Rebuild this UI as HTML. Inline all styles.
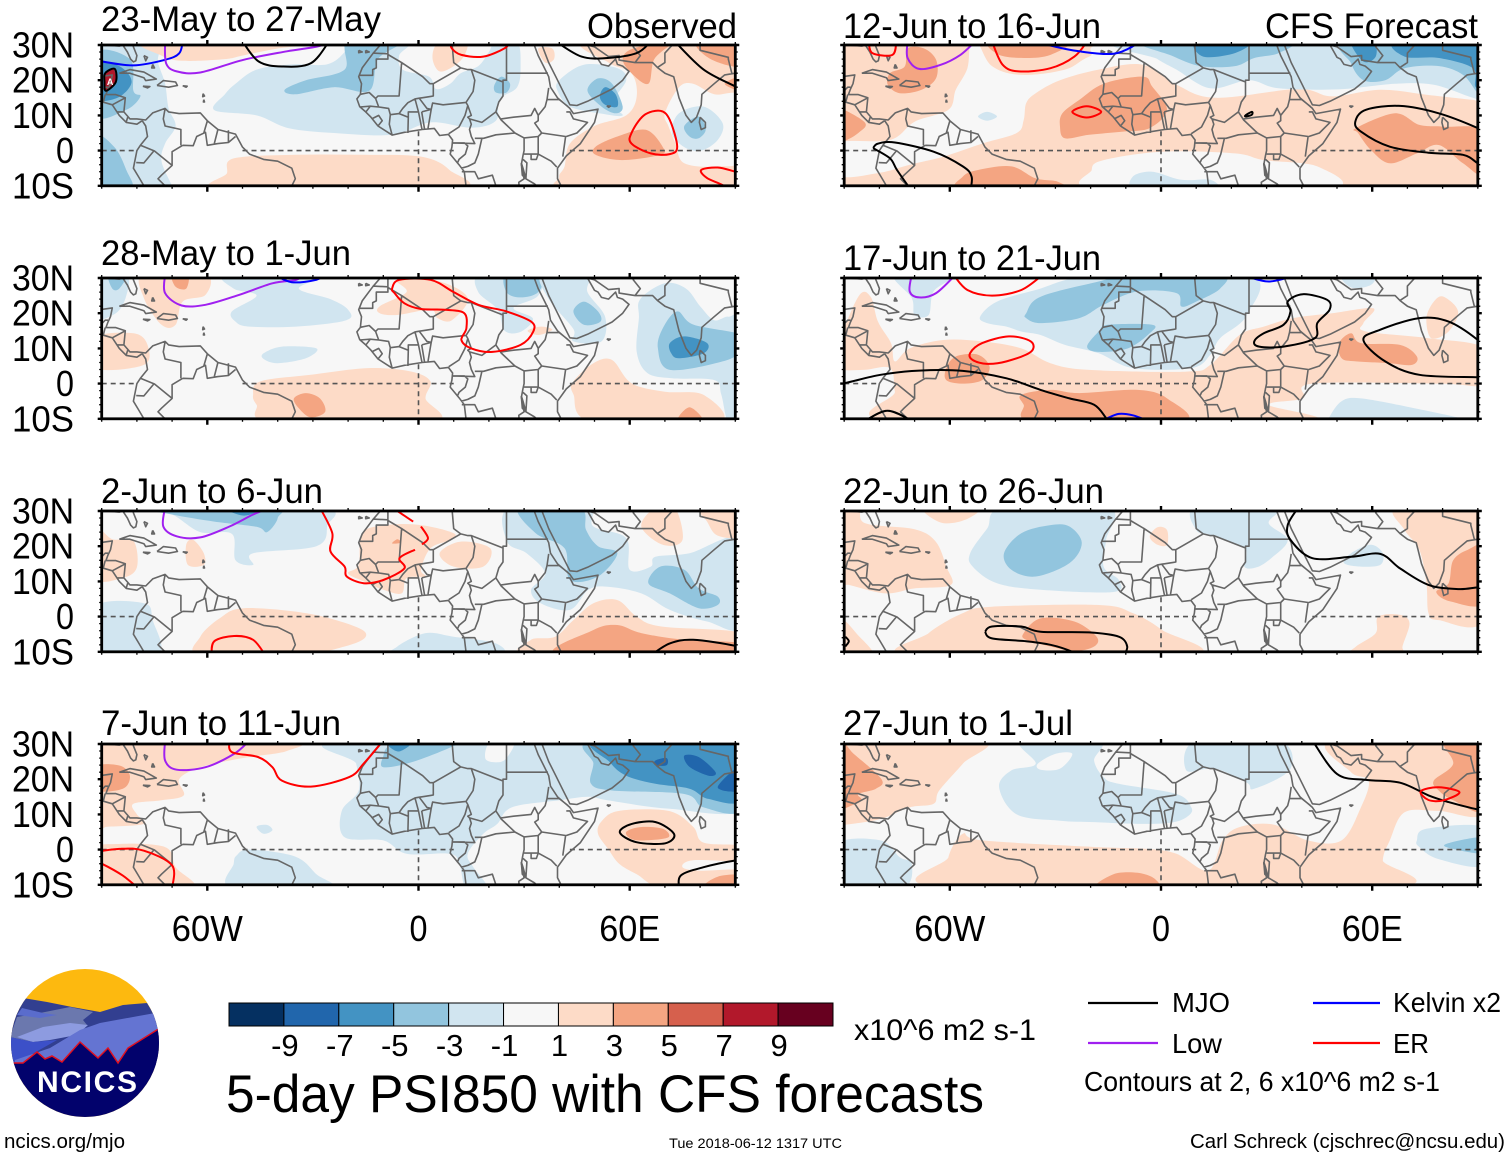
<!DOCTYPE html>
<html lang="en">
<head>
<meta charset="utf-8">
<title>5-day PSI850 with CFS forecasts</title>
<style>
html,body{margin:0;padding:0;background:#fff;}
svg{display:block;}
text{font-family:"Liberation Sans",sans-serif;fill:#000;}
</style>
</head>
<body>
<svg id="chart" xmlns="http://www.w3.org/2000/svg" width="1510" height="1158" viewBox="0 0 1510 1158">
  <rect x="0" y="0" width="1510" height="1158" fill="#fff"/>
  <g id="panels"></g>

  <g font-size="35">
    <text x="101" y="31" textLength="280" lengthAdjust="spacingAndGlyphs">23-May to 27-May</text>
    <text x="587" y="38" textLength="150" lengthAdjust="spacingAndGlyphs">Observed</text>
    <text x="101" y="265" textLength="250" lengthAdjust="spacingAndGlyphs">28-May to 1-Jun</text>
    <text x="101" y="503" textLength="222" lengthAdjust="spacingAndGlyphs">2-Jun to 6-Jun</text>
    <text x="101" y="735" textLength="240" lengthAdjust="spacingAndGlyphs">7-Jun to 11-Jun</text>
    <text x="843" y="38" textLength="258" lengthAdjust="spacingAndGlyphs">12-Jun to 16-Jun</text>
    <text x="1265" y="38" textLength="213" lengthAdjust="spacingAndGlyphs">CFS Forecast</text>
    <text x="843" y="270" textLength="258" lengthAdjust="spacingAndGlyphs">17-Jun to 21-Jun</text>
    <text x="843" y="503" textLength="261" lengthAdjust="spacingAndGlyphs">22-Jun to 26-Jun</text>
    <text x="843" y="735" textLength="230" lengthAdjust="spacingAndGlyphs">27-Jun to 1-Jul</text>
  </g>

  <g id="axis-labels" font-size="36"></g>

  <g id="colorbar"></g>
  <text x="854" y="1040" font-size="30" textLength="182" lengthAdjust="spacingAndGlyphs">x10^6 m2 s-1</text>
  <text x="226" y="1112" font-size="53" textLength="758" lengthAdjust="spacingAndGlyphs">5-day PSI850 with CFS forecasts</text>
  <text x="669" y="1148" font-size="14" textLength="173" lengthAdjust="spacingAndGlyphs">Tue 2018-06-12 1317 UTC</text>
  <text x="4" y="1148" font-size="20" textLength="121" lengthAdjust="spacingAndGlyphs">ncics.org/mjo</text>
  <text x="1190" y="1148" font-size="20" textLength="315" lengthAdjust="spacingAndGlyphs">Carl Schreck (cjschrec@ncsu.edu)</text>

  <g font-size="28">
    <line x1="1088" y1="1003" x2="1158" y2="1003" stroke="#000" stroke-width="2.2"/>
    <text x="1172" y="1012" textLength="58" lengthAdjust="spacingAndGlyphs">MJO</text>
    <line x1="1313" y1="1003" x2="1380" y2="1003" stroke="#0000ff" stroke-width="2.2"/>
    <text x="1393" y="1012" textLength="108" lengthAdjust="spacingAndGlyphs">Kelvin x2</text>
    <line x1="1088" y1="1043" x2="1158" y2="1043" stroke="#a020f0" stroke-width="2.2"/>
    <text x="1172" y="1053" textLength="50" lengthAdjust="spacingAndGlyphs">Low</text>
    <line x1="1313" y1="1043" x2="1380" y2="1043" stroke="#ff0000" stroke-width="2.2"/>
    <text x="1393" y="1053" textLength="36" lengthAdjust="spacingAndGlyphs">ER</text>
    <text x="1084" y="1091" textLength="356" lengthAdjust="spacingAndGlyphs">Contours at 2, 6 x10^6 m2 s-1</text>
  </g>

  <g>
    <defs><clipPath id="logo-clip"><circle cx="85" cy="1043" r="74"/></clipPath></defs>
    <g clip-path="url(#logo-clip)">
      <rect x="10" y="968" width="150" height="150" fill="#fdb90f"/>
      <polygon points="23,998 47,1002 72,1007 100,1012 123,1005 147,1003 159,1023 159,1070 10,1070 10,1027" fill="#323f90"/>
      <polygon points="10,1037 17,1017 40,1013 70,1007 93,1012 83,1020 87,1025 33,1042" fill="#6b78ae"/>
      <polygon points="17,1015 22,1008 43,1013 57,1015 40,1018" fill="#5a6ccc"/>
      <polygon points="17,1037 43,1027 70,1023 88,1025 77,1035 50,1040 33,1042" fill="#8d9be0"/>
      <polygon points="10,1037 33,1042 57,1040 13,1065 10,1065" fill="#3c50c8"/>
      <polygon points="50,1048 80,1030 100,1023 155,1013 160,1030 117,1065 15,1065 15,1060" fill="#6474d2"/>
      <polygon points="10,1063 23,1063 37,1052 45,1059 52,1056 62,1062 80,1042 98,1058 108,1048 118,1063 128,1048 160,1028 160,1120 10,1120" fill="#02026c"/>
      <polyline points="10,1063 23,1063 37,1052 45,1059 52,1056 62,1062 80,1042 98,1058 108,1048 118,1063 128,1048 160,1028" fill="none" stroke="#e01020" stroke-width="1.5"/>
    </g>
    <text x="37" y="1092" font-size="30" font-weight="bold" style="fill:#fff" textLength="100" lengthAdjust="spacing">NCICS</text>
  </g>
</svg>

<script>
// ---------- Colour scale ----------
const colorbarLabels = ['-9','-7','-5','-3','-1','1','3','5','7','9'];
const colorbarColors = ['#053061','#2166ac','#4393c3','#92c5de','#d1e5f0','#f7f7f7','#fddbc7','#f4a582','#d6604d','#b2182b','#67001f'];
const shadeLevels = [-10,-8,-6,-4,-2,0,2,4,6,8,10];

// ---------- Axis ticks ----------
const lonTickLabels = ['60W','0','60E'];
const lonTickValues = [-60,0,60];
const latTickLabels = ['30N','20N','10N','0','10S'];
const latTickValues = [30,20,10,0,-10];

// ---------- Observed panels: shaded regions [level, lon, lat, lon, lat ...] ----------
const fillsMay23 = [
 [-2,-92,31,-75,31,-74,25,-72,19,-71,12,-69,7,-72,2,-73,-3,-70,-10,-69,-12,-92,-12],
 [-2,-58,11.5,-55,16,-52,19,-46,23,-36,24.5,-26,24.5,-21,28,-20,31,-3,31,-5.5,27,-4.5,23,3,21,5,17.5,9,19,12,22,17,24,20,28,22,31,28,31,29,24,28,18,23,14.5,22,8.5,15,6.5,3.5,8,-7.5,4.5,-24,5,-37,6.4,-46,10],
 [2,-54.4,-6.4,-52.4,-2.2,-34.7,-1.2,-17,-1.2,.7,-1.7,8.8,-5.5,10,-11,-55,-11],
 [2,-76,31,-73,27,-67,25.5,-55,26,-50,27,-40,29,-26,31],
 [2,4,26,5,30,9,31,13.8,31,13,27,10,24,6,22.5],
 [2,34,29,36,25,38.5,26,38,29],
 [2,48,31,54,25,60.5,22,62,15.4,59,10,50,7,43,2,41.5,-4.5,40,-7.5,43,-11,92,-11,92,31],
 [0,70,10.6,74,18,78,19,84,16,92,15,92,-2,85,-4.5,75.5,-3.6,73,2,71,7],
 [-2,40,20,47,24.4,56.5,23.4,59,20,55,13.5,58,10,52,10.5,43,12.5,39.5,17],
 [-4,48,17,51,20.5,55,19,58,12.5,56,10.6,52,12.5],
 [-6,51.5,15.4,53,18,56,16,56.5,12.5,53,13],
 [-2,72,5,74,10.6,81,12.5,86.4,7.8,85,3,80.3,0,75.5,1],
 [-4,75.5,7,79.6,9.7,81.6,6,79.6,3.5,77,4],
 [4,61,29,72,31,67,26,65.3,19,60.5,22,58,26],
 [4,79,31,92,31,92,24,83,26],
 [4,87,19,92,21,92,17],
 [4,50.3,1.1,56.5,4,64.6,5.9,69.4,1,68.7,-1.2,57.8,-2.7,50.3,-1.2],
 [-4,-38,17.3,-32,20,-21,23,-20,31,-5,31,-11.5,26,-14,17,-24,18,-35,16],
 [-4,21.5,18.5,23.5,21,26,19,25,16.5,22,16.5],
 [-4,-92,27.5,-82,26,-81,17,-79,15.4,-83,11.6,-92,10],
 [-4,-92,4,-86.4,1,-83,-5.5,-81.6,-11,-92,-11],
 [-6,-92,25,-85,24,-81.5,19.5,-85.5,15,-92,15],
 [8,-88.6,17,-86.2,19.5,-86.5,23,-88.8,22,-89,19.5]
];
const fillsMay28 = [
 [-2,-92,31,-83,31,-83,25,-86,20,-92,19],
 [-4,-88,31,-83,31,-85,27,-87,27],
 [2,-78,31,-78,24.3,-73,16.7,-69,16.7,-67,23.3,-60.5,25.2,-60.5,31],
 [4,-70,31,-65.5,31,-66,27,-69,27.5],
 [2,-92,13,-81,14.3,-77,11,-78,5.3,-92,4.4],
 [-2,-54.4,31,-52.5,27,-46,25,-53,20.5,-52,17.6,-48,16.2,-34.7,16.2,-20.5,18,-20,21,-25,24,-34,27,-28,31],
 [-2,-44,8.6,-38.8,10.5,-29,10,-32,7.2,-40,5.8,-44,7],
 [2,-11,22,-3.4,26,-6,29.5,6,29,14,24.3,9.5,18,5.4,18.6,3.4,21,-6,19.5,-11,20],
 [2,31,15,34.7,16.2,38,15.3,34,13.8],
 [-2,17.7,31,17,26,22.5,21,24.5,15,29,14.7,32.5,18.5,27,21.5,34,25,34,31],
 [-4,25,31,35,31,34,26,29,24.5,25,26],
 [-2,35,31,37,24,44,15.5,44,12,52,12,53,19,48,26,48,31],
 [-4,44,20.5,47,23.3,51,20.5,51.7,17.6,47,16.7],
 [-2,62.6,18.6,63,24,70,28.5,76,27,80,22,84,18,88,19,92,17,92,-11,88,-11,86,-3,84,1,72,1.5,65,3,62,9],
 [-4,68,10,69.4,15.7,73.5,20.5,78.2,16.7,92,13.8,92,9.6,86.4,6.3,71.4,3.9],
 [-6,71.4,11.5,75.5,13.4,82,11.5,81,8.6,74,7.2,71.8,8.6],
 [2,-47,-3.2,-45,.6,-30.6,2.5,-14.3,4.4,-2,3.4,3.4,.6,2,-4.2,4,-11,-41.5,-11,-46,-6],
 [4,-35.4,-4.2,-32,-2.7,-28,-4.2,-26.5,-8,-30.6,-9.6,-34,-7],
 [2,44,.6,49.7,5.8,55,6.7,60.5,.1,70,-2.3,81,-3.2,85,-11,49.7,-11,44,-3],
 [4,73.5,-11,77,-6.7,81,-11]
];
const fillsJun2 = [
 [-2,-78,31,-70,29,-62,24,-53,23.5,-52,16,-47,14.7,-47,18,-29,20,-26,25.6,-28,31],
 [-4,-78,31,-70,29,-58,27,-46,25.5,-43,24,-40,28,-42,31],
 [-6,-55,31,-44,31,-49.5,28.7],
 [2,-92,25,-87,22,-81,21.5,-80,14,-84,11,-92,11],
 [2,-66,20.4,-64,21.8,-61,18,-61,14.7,-65.5,14.7],
 [-2,-92,2.8,-78,3.8,-75.5,-1,-74,-11,-92,-11],
 [2,-62,-5.7,-56.5,-.5,-49.7,2.4,-32,1,-18,-2.8,-15,-5.7,-21,-8.5,-34.7,-11,-62,-11],
 [-2,-6,-8.5,2,-4.7,10,-5.7,22,-7.6,22,-11,-6,-11],
 [2,-20,12.3,-17,14.7,-16,23.7,-9,26,.7,26,10,23.7,9,21.8,3.4,19.4,.7,13.3,2,11.4,-3.4,10.9,-4.8,6.6,-10,7.6,-15.6,10],
 [4,-7.5,20.8,-6,22,-5,21],
 [2,6,18,12,21.3,20.4,19.4,18.4,14.2,10,14.2],
 [-2,25.8,31,25.2,21.3,30.7,18,36,12.3,32,7.6,34.7,3.8,43,1.9,48.3,7.6,53.7,8.5,63.3,6.6,71.4,1.9,82,-1.4,92,-2.4,92,21.8,77,18,67.3,17,66,14.2,60,13.3,59,22.3,49.7,25.6,47.6,31],
 [-4,28.6,31,33.3,23.7,41.5,19.4,43,10.4,51,11.4,56.5,18,51,20,47.6,24.6,45.6,31],
 [-4,65.3,9.5,68.7,14.2,75.5,13.3,79.6,8,85,5.7,85,3.3,79.6,2.4,71.4,6.6],
 [2,63.3,25.6,67.3,31,72.8,31,75,21.8,69.4,20.4],
 [2,80,31,92,31,92,23,85,23,82,27],
 [2,32,-6.6,38.8,-5.7,44,-1,49.7,3.8,56.5,4.7,62,0,69,-2.8,92,-4.7,92,-11,33,-11],
 [4,40,-11,49.7,-3.8,56.5,-2.4,63.3,-4.7,75.5,-6.6,92,-7.6,92,-11]
];
const fillsJun7 = [
 [2,-92,31,-37,31,-37.4,28,-50,26,-62,23.4,-68,20,-66.7,15.4,-73,14,-81,13,-80,10,-78,7.3,-88.4,6.5,-92,6.5],
 [2,-92,-.2,-86,1.6,-72,.7,-69,-5,-64.6,-11,-92,-11],
 [4,-92,23.5,-85,23.9,-82,21,-84,17.3,-92,17],
 [-2,-19.7,31,-17.7,24.4,-17,16.8,-21.8,11,-21,3.5,-10,2.6,-3.4,-1.2,8.8,-1.2,11.6,-4,13.6,-11,19.7,-11,15.6,-5,14,-1.2,18.4,4.5,22.4,7.3,26.5,12,40,14,48.3,15,53.7,14,71.4,11.6,92,11.6,92,31],
 [0,19,25.8,20.4,30.5,27,30.5,25,26,22.4,24.8],
 [-2,-52.5,-4,-51.7,-1.7,-48,0,-35,-2,-29,-7,-25,-11,-53,-11],
 [-2,-46,6.5,-43,7,-41.5,5.5,-44,4.5],
 [-4,-8,29.6,.7,31,12,31,9,29,-2,24.8,-10,23.4,-10,26.5],
 [-4,49,18.7,49.7,24.4,49.7,31,92,31,92,11.6,81,12,75.5,15.8,55,16.8],
 [-6,51,31,54.4,24.8,59,21,67.3,18.7,77,17.3,82.4,14.4,92,14.4,92,31],
 [-8,75.5,26.7,79.6,26.3,84.4,22,82.4,21,77,23.5],
 [-8,67.3,25.3,70.5,26,70.5,24,67.3,24],
 [-8,85,17.7,92,24,92,17],
 [-6,-8.5,30,-2.5,30,-5,28,-7,28.3],
 [2,51,4.5,52,8,57,11,71,11,78,6.5,81,2,92,1,92,-3,78,-3,75,-5,80,-6,92,-6,92,-11,70,-11,62,-7,57,-4,54,0],
 [4,59,5,63,6.4,69.4,5.9,71,3.5,64.6,2.6,60.5,3],
 [4,81,-11,85,-7.7,92,-7.4,92,-11]
];

// ---------- Forecast panels: shaded regions ----------
const fillsJun12 = [
 [0,-54.2,30.5,-55,23.4,-58.3,17.3,-60.4,11.6,-70,8.2,-77,3,-92,2,-92,-7,-80.4,-6.4,-71.4,-4,-61.8,-1.7,-50.8,2,-41,5,-39,8.7,-38.3,13.5,-35.6,16.3,-28.7,20,-17.7,23,-5.2,24.4,4.4,18.7,15.4,15,39,17.5,48.6,15.4,62.3,17.3,76,15.8,88.6,14.4,92,14,92,32,-8,31,-20.4,26.7,-27.3,23,-39.7,21.5,-48,24,-52,30.5],
 [0,-19.7,-5.5,-16.3,-2.7,.3,-.3,21,-.8,29.2,-2.7,44.4,-4.5,47.2,-11,-17.7,-11],
 [-2,-8,31,-1,26,4.4,23,14,17.7,25,20,33.4,17.7,50,17.4,66.5,19,77.5,18.7,88.6,15,92,15,92,31],
 [-4,-4.5,31,3,27,11.3,24,21,24,26.5,26.3,33.4,27.7,34.8,31],
 [-4,53.4,31,54,24.8,57.5,20,63.7,20,69.2,23.4,79,24,85.8,21.5,90,16.3,92,16,92,31],
 [-6,10,31,12,26.7,21,27.7,25,31],
 [-6,54,31,57.5,25.3,61,26.7,60.3,31],
 [-6,67,31,69.2,26.7,79,26.3,88.6,23.4,89.3,18.2,92,18,92,31],
 [4,-92,12,-90,11.6,-84,7.8,-86,5,-90,2.6,-92,2],
 [4,-48,31,-46,27.2,-38.3,26.3,-31.4,27.2,-26.6,31],
 [4,-72,29,-67.3,29,-63.9,25.8,-63.9,20.6,-68,17.3,-74.2,16.3,-77.6,18.7,-77,22,-72.8,23.9],
 [4,-28,10.6,-23.2,14.4,-16.3,19,-5.2,21,-2.5,18.2,1.7,11.6,-3.2,6.4,-10.8,5.4,-20.4,4.5,-27.3,3.5,-28.7,6.8],
 [4,-56.3,-7.4,-52,-5.5,-42.5,-4.5,-35.6,-7.9,-29.4,-8.8,-29,-11,-56.6,-11],
 [4,55.4,6.4,66.5,10.6,73.4,7.3,80.3,6.8,92,5.5,92,-7,85.8,-3.6,78.9,1.6,72.7,-.8,65,-3.6,59.6,.2,56,5],
 [-2,-52,9.7,-49.4,11,-46.6,9.7,-49.4,8.5],
 [-2,-8,-7.4,-2.5,-6,5.8,-8.3,14,-8.3,14.8,-11,-6.6,-11]
];
const fillsJun17 = [
 [-2,-51.4,19,-46.6,23.3,-35.6,26.6,-17.7,31,25,31,24.4,19.5,16.8,12.9,14,8.2,8.6,4.4,-8,4.4,-17.7,8.6,-27.3,11,-34.2,13.8,-39.7,14.8,-43.9,16.2,-49.4,17.2],
 [-4,-38.3,20,-34.2,24.7,-17.7,29,-8,31,16.8,31,16.8,27,10,23.3,5.8,21.9,4.4,25.7,-6.6,26.2,-16.3,22.4,-23.2,18.6,-34.2,17.2,-38.3,18.6],
 [-4,-21,10.5,-17.7,14.8,-15,16.7,-2.5,16.7,-3.2,14.3,-9.4,10,-17.7,9],
 [-2,51.3,31,60.3,31,59.6,28,54,27.3],
 [-2,-75.6,31,-59,31,-64.6,26.2,-66,19.5,-70,19.5,-70.8,24.3],
 [2,-92,10,-86,24.7,-82.5,24.7,-80.4,17.6,-76.7,11.5,-75.6,6.3,-71.4,10,-61.8,12.4,-50.8,12,-39.7,10,-31.4,5.8,-20.4,3.9,7.2,3.4,14,5.3,22.3,13.8,29.2,16.2,37.5,18.6,48.6,20,60.3,21.4,57.5,17.2,58.2,14.8,76,12.9,92,10,92,0,78.9,0,43,0,40.3,-4.2,30.6,-6,39,-11,-74.2,-11,-75.6,-2.3,-77,4.4,-84.6,3.9,-92,4.4],
 [2,77.5,23.3,80.3,24.7,84.4,20.5,81.7,14.8,76.8,12.9,75.4,18.6],
 [4,-61,4.4,-58.3,7.7,-52,8.2,-48.7,4.8,-50.8,1,-56.3,0,-61,1],
 [4,-39.7,-3.2,-31.4,-1.8,-23.2,-2.7,-6.6,-1.8,1.7,-4.2,5.8,-11,-35.6,-11,-39,-6],
 [4,50.6,11.5,54,14.3,56.8,11.5,67.9,11,72.7,7.7,71.3,5.3,65,5.8,55.4,6.3,51.3,7.2],
 [-2,47.9,-9.4,51.3,-5,56.8,-4.2,72,-7,85.8,-10,85.8,-11,47.9,-11]
];
const fillsJun22 = [
 [2,-92,31,-86,31,-84,26.5,-70,24.8,-64,21.3,-61,14.2,-59.7,9,-70,8,-78.3,6.6,-88.7,9,-92,9.5],
 [2,-67.3,31,-52,31,-55.6,27.5,-62.5,26.7],
 [-2,-54.2,18,-49.4,25,-44.6,31,-15,31,-15.6,21.8,-16.3,14.2,-12,10.4,-13.5,7,-34.2,7.6,-46.6,9.5,-53.5,14.2],
 [-4,-44.6,18,-39.7,23.7,-31.4,26,-26,25.6,-22.5,20.9,-26,15.2,-35.6,11.4,-42.5,13.3],
 [-2,10,31,32.7,31,30.6,26.5,36,21.8,31.3,16.6,27.2,14,23.7,14.2,23.7,19.4,14,23.2,10,24.6],
 [-2,52,15.2,54,18,59.6,20.4,63,18,62.3,14.7,56.8,14.2],
 [2,-3.2,22.7,-1,25.4,1.7,24.6,1.7,20.4,-1,20.4],
 [2,-70.8,-11,-66,-4.7,-56.3,1,-48,2.8,-17.7,3.3,-8,1,.3,-3.8,7.9,-11],
 [4,-39,-4.7,-34.2,-.5,-24.6,-1.4,-18.3,-5.7,-19,-8.5,-24.6,-9.8,-31.4,-8.5,-38.3,-6.6],
 [2,-92,-.5,-90,-1,-86.6,-4.7,-81.8,-11,-92,-11],
 [2,55.4,-8.5,61,-4.7,61.7,0,67.9,.5,70.6,-1.9,68.6,-8.5,68.6,-11,54,-11],
 [2,67.2,31,69.2,24.6,73.4,19,75.4,9.5,76,1,78.9,-1,92,-.5,92,31],
 [4,83,16,87.2,19,92,19.5,92,4,82.3,4.3,78.2,7,81.7,9.5]
];
const fillsJun27 = [
 [2,-92,31,-50.8,31,-56.3,24.4,-63,16.8,-64.6,13,-71.4,12,-79.7,8.7,-89.4,7.1,-92,7],
 [4,-92,31,-87.3,27.2,-79.4,20,-81,17.3,-86,15.8,-85.2,14,-90,11.6,-92,11],
 [-2,-46,17.7,-42.5,22.5,-35.6,24.4,-39.7,31,-17.7,31,-19,25.3,-16.3,20.6,-12,18.7,4.4,15.8,8.6,12,7.9,9.7,3.7,7.8,-5.2,7.3,-19,7.8,-28.7,8.2,-41,10],
 [0,-35,24.4,-30,27.2,-25.2,27.2,-28.7,23,-34.2,22.7],
 [-2,10,31,33.4,31,36.8,23,26.5,17.3,24.4,19,15.4,23,7.2,22.5],
 [2,-60.4,-11,-60.4,-2.2,-56.3,4.5,-50.8,2.6,-17.7,.7,-3.9,.2,4.4,-1.2,13.4,-6,17.5,2.6,22.3,6.4,32,7.1,41.7,2.6,51.3,2.6,56.8,12,59,19.6,54,22,48.6,31,92,31,92,10.6,78.9,11,69.2,10.6,65,2.6,63,-3,63.7,-11],
 [4,-18.3,-11,-13.5,-7,-6.6,-6.6,-1.8,-8.3,-1.8,-11],
 [4,80.3,31,92,31,92,11.5,83,14,78.9,16.8,77.5,19.6,83,24.4],
 [-2,72.7,2.6,75.4,5.9,92,6.2,92,-4.5,78.9,-2.7,73.4,.7],
 [-4,81,1.6,92,3.5,92,-1,83,.2],
 [-2,-92,1.5,-79.7,2.6,-74.2,-2.2,-70.8,-4,-73.5,-11,-92,-11]
];

// ---------- Contours: [series, closed(1/0), lon, lat, lon, lat ...] ----------
const contoursMay23 = [
 ['Kelvin',0,-92,25.5,-90,25.3,-81,24.2,-72,25.8,-68,27.6,-67,31],
 ['Low',0,-72,31,-71.7,24.8,-68.7,22.5,-62,22.2,-49.7,25.8,-37.4,28.2,-28.6,29.6,-25,31],
 ['MJO',0,-50,31,-45.4,25.3,-38.8,23.9,-30.6,24.8,-25.4,31],
 ['ER',0,9,31,9.5,29,12.2,27.2,18.4,26.7,24.5,29.1,26,31],
 ['MJO',0,39,31,46.3,26.7,53.7,26.3,62,27.7,66,31],
 ['MJO',0,72.8,31,81,23,90,18.2,94,16],
 ['ER',1,60.5,5,64,10,68.7,11.3,71.4,8.7,73.5,1.1,71.4,-1,66,-.8,60.5,2],
 ['ER',0,94,-7,90,-6,85,-4.8,80.3,-5.5,82,-7.8,86.4,-9.8,89,-12],
 ['MJO',1,-88.8,17,-86,19.5,-86.3,23.2,-89,22,-89.2,19.5]
];
const contoursMay28 = [
 ['Low',0,-72,31,-72,25.7,-67.3,22.2,-60.5,22.4,-51,25.2,-41.5,28.5,-34.7,29.5,-33,31],
 ['Kelvin',0,-41,31,-36,28.8,-29,29.5,-27,31],
 ['ER',1,-7.5,27,-5.4,29.5,3.4,29.5,10,26,17,22.4,25,20.5,32,17.6,32.6,14.8,29,11,21,9,15,10,12.2,12.4,13.6,15.7,13,20,7.5,21,.7,21.2,-4,22.8,-6.8,25.7]
];
const contoursJun2 = [
 ['Low',0,-72,31,-72.5,25.6,-68.7,22.8,-62,22.5,-53.7,25.6,-47,29,-42,31],
 ['ER',0,-28,31,-24.5,23.7,-25,18.5,-21,14.2,-20.4,11.4,-15.6,9.5,-10,10.4,-4,13.7,-5.4,16.6,-1,19],
 ['ER',0,1,20.5,2.7,22.3,.7,25.6],
 ['ER',0,-1.5,27,-6,30,-7,31],
 ['ER',0,-58.8,-11,-58,-7,-52.4,-5.5,-47,-6.6,-43.5,-11],
 ['MJO',0,66,-11,71.4,-7.6,78,-6.6,90,-8.3,94,-10]
];
const contoursJun7 = [
 ['Low',0,-72,31,-72,25.3,-68.7,22.7,-60.5,23.4,-52.4,27.2,-48,31],
 ['ER',0,-53.7,31,-53,27.7,-45.6,26.3,-41.5,23.4,-38.8,19.6,-30.6,17.9,-19.7,20.6,-15.6,24.4,-10,31],
 ['MJO',1,57.2,4.9,60.6,7.3,67.4,7.8,72.6,4.4,70.1,1.8,61.9,2.1],
 ['MJO',0,74,-11,74.6,-7.3,81,-5,90,-3.1,94,-3],
 ['ER',0,-94,-1,-85,.2,-78,-.3,-70,-4.5,-70,-11],
 ['ER',0,-92,-3.5,-90,-4,-84,-7.4,-79.6,-11]
];
const contoursJun12 = [
 ['ER',0,-83,31,-82,27.7,-76.3,27.2,-75.2,31],
 ['Low',0,-72,31,-72,26.3,-68.7,23.2,-62.5,24.4,-57,27.2,-52.8,31],
 ['ER',0,-48,31,-45,24.4,-40.4,22.5,-31.4,23.4,-24.6,26.7,-21,31],
 ['Kelvin',0,-34,31,-32,30,-23.2,28.2,-13.5,27.5,-7.3,30,-6,31],
 ['ER',1,-25.2,11,-21.1,12.6,-17,11,-21.1,9.4],
 ['MJO',1,55.2,8.2,58.2,11.6,67.9,12.7,78.9,10.6,90,6.4,94,4,94,-6,90,-3.6,85.8,-1.2,76,-.6,65,1.1,56.8,5.4],
 ['MJO',0,-81.8,.7,-80.4,2,-75.6,2.3,-64.6,-.3,-56.3,-4.5,-53.8,-7.4,-54.2,-11.5],
 ['MJO',0,-81.8,.7,-77,-2.2,-75,-5.5,-70.8,-11.5],
 ['MJO',1,24,10,25.8,11,25.8,10.2,24.2,9.7]
];
const contoursJun17 = [
 ['Low',0,-70.8,31,-71.4,26.2,-68.7,24.5,-63.9,25.7,-58.3,31],
 ['ER',0,-59,31,-55,26.6,-48,25,-39.7,26.6,-33.5,31],
 ['Kelvin',0,23,31,30.6,29,39,31],
 ['ER',1,-54.2,8.7,-50.8,11.5,-43.2,13.4,-37,12,-37,9,-43.9,6.3,-49.4,5.6,-53.5,6.7],
 ['MJO',0,-94,-.2,-90,.1,-79.7,2.5,-68.7,3.7,-56.3,3.6,-43.9,1.5,-34.2,-1.8,-26,-4.2,-19,-6,-15.6,-9.8,-14,-12],
 ['Kelvin',0,-15.6,-10,-12,-8.6,-8,-9,-3.9,-10.5],
 ['MJO',0,-84,-10.5,-77.7,-7.7,-70.8,-10.5],
 ['MJO',1,26.5,12,29.2,14.3,34.8,16.7,36.8,20.5,36,23.3,40.3,25.4,47.2,23.8,47.9,21,44.4,17.2,43.7,12.9,34.8,10.5,27.9,10.5],
 ['MJO',1,57.5,12.4,62.3,15.3,73.4,18.6,81.7,17.6,90,12.4,94,8,94,1.7,90,1.8,73.4,2.5,63.7,6.3]
];
const contoursJun22 = [
 ['MJO',0,39,31,36,26,36.8,21.8,43,16.6,54,17,62.3,17.8,67.9,13.7,76,9,84.4,7.8,90,8.3,94,8.3],
 ['MJO',0,-50,-4.3,-48,-2.8,-39.7,-2.8,-34.2,-4.3,-20.4,-4.5,-12,-5.7,-9.6,-8.5,-10.8,-11.5],
 ['MJO',0,-50,-4.3,-48,-6.2,-38.3,-7,-31.4,-8,-25.2,-10,-23,-11.5],
 ['MJO',0,-89.7,-5.7,-88.7,-7,-89.7,-8.5]
];
const contoursJun27 = [
 ['MJO',0,43,31,50,21.5,58.2,19.8,67.9,19,76,15.4,81.7,13.5,90,11.4,94,11],
 ['ER',1,73.8,16.6,78.9,17.7,84.8,16.3,80.3,14,76,14.1]
];

// ---------- Panel order and background level ----------
const panelFills = [fillsMay23,fillsMay28,fillsJun2,fillsJun7,fillsJun12,fillsJun17,fillsJun22,fillsJun27];
const panelContours = [contoursMay23,contoursMay28,contoursJun2,contoursJun7,contoursJun12,contoursJun17,contoursJun22,contoursJun27];
const panelNames = ['may-23','may-28','jun-2','jun-7','jun-12','jun-17','jun-22','jun-27'];
const panelBaseLevels = [0,0,0,0,2,0,0,0];
const seriesNames = ['MJO','Kelvin','Low','ER'];
const seriesColors = ['#000000','#0000ff','#a020f0','#ff0000'];

// ---------- Map outlines as lon,lat polylines ----------
const coastlines = [
 [-92,29.5,-89,30,-85,29.7,-84,30,-82.7,28,-81.8,26,-81,25.2,-80.3,25.5,-80,27,-81,29.5,-81.3,31],
 [-91,18.7,-90.5,21,-87,21.5,-87.5,19,-88.2,17.5,-88.8,15.9,-86,15.9,-83.3,15,-83.7,11,-82,9,-80,9,-77.5,8.7,-75.5,10.7,-72,12,-71,11,-68,10.5,-62,10.7,-60,8.5,-57,6,-52,4.7,-50,1,-48,-1,-44,-2.5,-40,-3,-36,-5,-35,-8,-36,-10,-37,-12],
 [-92,14.5,-87,13,-85,10,-83,8,-80,7.5,-78.5,8.5,-77.5,7,-77,4,-79,1.5,-80,0,-81,-5,-79.5,-7.5,-78,-10,-77,-12],
 [-85,22,-82,23,-78,22.3,-74.5,20.3,-77.5,19.9,-78,20.7,-82,22,-85,22],
 [-74.3,18.5,-72.5,19.9,-69,19.5,-68.5,18.5,-71,18,-74.3,18.5],
 [-78.3,18.3,-76.3,18.2,-77,17.8,-78.3,18.3],
 [-67,18.4,-65.7,18.3,-66,18,-67,18.4],
 [-78,27,-77,26.5,-77.5,25.5,-78,27],
 [-75.5,24.5,-75,23.5,-75.8,23.5,-75.5,24.5],
 [-61.2,16.2,-60.8,15.5,-61.3,15.3,-61.2,16.2],
 [-61,14.5,-60.8,13.8,-61.1,13.8,-61,14.5],
 [-17,28.5,-16,28,-17,27.8,-17,28.5],
 [-15,28.5,-14,28,-15,27.8,-15,28.5],
 [-10,31,-13,27.5,-16,23.5,-17,21,-16.2,19,-16.5,16,-17.5,14.7,-16.7,12.5,-15,11,-13.5,9.5,-11.5,7,-7.5,4.4,-4,5.2,1,6,4.5,6.3,6,4.3,8.5,4.6,9.7,3,9.5,1,9,-1,11.5,-4,13,-6,13.5,-10,13.7,-12],
 [32.5,31,34,27,35.5,24,37,21,37.5,18,39.5,15,43,12,44,10.5,51,11.8,50,8,46,2,42,-1.5,39.5,-5,39.5,-8,40.5,-10,40.7,-12],
 [34.7,31,37,25,39,21,41,17,43,13,45,12.8,48,14,52,16,55,17.5,58,20,59.8,22.5,58,24,56.5,24.5,56,26,54,24,52,24.5,51,26,50,26.5,48,30,50,29.5,54,26.7,57,27,57,25.7,61.5,25,66.5,25,68,23.5,70,22,72.5,21,73,19,74,15,76,10,77.5,8,79,9.5,80.3,13,80.5,16,84,19,87,21.5,90,22,92,21],
 [80,9.5,81.5,8,81.5,6.5,80.3,6,79.8,8,80,9.5],
 [53.5,12.7,54.5,12.6,54,12.3,53.5,12.7],
 [32,-1,34,-1,33.5,-2.5,32,-2.5,32,-1],
 [29.2,-3.5,29.7,-5,30.5,-8,29.5,-7,29.2,-3.5]
];
const borders = [
 [-17,21.4,-13,21.4,-13,23,-12,23.5,-12,26,-8.7,26,-8.7,27.5,-13,27.7],
 [-8.7,27.3,-4.8,25,-5.5,15.5,-9.3,15.5,-11.5,15.5,-12.2,14.8,-14,16.5,-16.5,16],
 [-8.7,31,-8.7,27.5],
 [-4.8,25,1.2,21,3.2,19,4.2,19,4.2,15.5,3.5,15.4,1,15,.2,14.9,-1,14.7,-3,13.6,-4.5,12,-5.5,10.5,-8,10.2,-8.5,12,-11.3,12.4,-12.2,14.8],
 [4.2,19,12,23.5,10,25,9.5,31],
 [12,23.5,14,23,15,23,24,19.5],
 [25,31,25,22,25,20,24,20,24,19.5,24,15.5,22.8,13.8,22,11,23.5,8.7,27.4,5],
 [25,22,36.8,22],
 [15,23,16,20,15.5,16.8,13.5,13.7,14,12.8,15,10,14,9.5,14.5,9,18,8,22,11],
 [2.7,6.3,3.6,11.7,4,13.5,7,13,13.5,13.7,14,12.8,13.2,10,11.5,6.7,8.6,4.8],
 [9.7,2.2,16,2,15,4,14.5,6,15,7.5,14.5,9],
 [16,3.5,18.5,3.5,22,4.5,27.4,5,30,3.6,34,4,35,5,41.8,4,41,-1.7],
 [23.5,9,27,9.5,32,10,33,12,34,10,34,8.5,33,7.8,35,5],
 [36.5,14.5,36,12.5,34,10],
 [37,17.8,36.5,14.5,38,14.5,40,14.5,42.5,12.5],
 [42,11,43,11,44,9,48,8,45,5,42,4],
 [34,-1,37.7,-3,39.3,-4.7],
 [30,3.6,30,0,29.7,-1.4,29.2,-4,30,-8,28.5,-9,28.7,-12],
 [30,-1,34,-1,34,4],
 [29.7,-2.5,30.8,-3.5,30.5,-8,33,-9.5,35,-11.5],
 [9.7,2.2,11.3,2.2,13,2.2,14,1.3,13.3,-1,11.5,-2.5,11,-3.7],
 [18,3.5,17,-1,16,-3.5,14,-4.5,12.2,-5],
 [12.3,-6,16,-6,17,-8,21,-7,22,-10,24,-11],
 [-16.7,12.4,-13.7,12.6,-11.3,12.4],
 [-15,10.9,-13.7,12.6],
 [-13.3,9,-11.3,10,-10.3,8.5,-11.5,7],
 [-8,10.2,-8.3,7.5,-7.5,4.4],
 [-3,5,-2.9,9.5,-5.5,10.5],
 [-2.9,9.5,-2.9,11,0,11,1,6],
 [.9,11,3.6,11.7],
 [.9,11,1.7,6.2],
 [.2,14.9,2.4,12,3.6,11.7],
 [-1,14.7,0,11],
 [61.5,25,63,27,61,29.5,62,31],
 [68,23.7,70,25,70,27.7,73,31],
 [80,31,80,28.5,88,26.5,88,26,89,22],
 [-72,12,-72.5,9,-72,7,-67.5,6,-67.5,1.5],
 [-79,1.5,-75,-.1,-70,-4.2],
 [-67,1.5,-70,-.3,-70,-4.2,-73,-7,-74,-8,-72,-10],
 [-80.2,-3.4,-78,-3.5,-75.2,-.1],
 [-60,8.4,-61,5,-60.5,5.2],
 [-67,1.5,-64,1.4,-63,4,-60.5,5.2,-60,1.5,-57,2,-54,2.3,-52,4],
 [-57,6,-58,2],
 [-54,5.8,-54,2.3],
 [-92,14.5,-91,16,-89,18,-88.2,18],
 [-89,15.9,-89.5,14],
 [-87,13,-83.3,15],
 [-85.7,11,-83.7,11],
 [-83,8.2,-82.6,9.5]
];
const zeroLatSegments = [-90,-80,-50,10,43,90];
const zeroLonRange = [5.5,-10];

// ---------- Axis functions ----------
const SVGNS = 'http://www.w3.org/2000/svg';
const PX_PER_DEG = 3.52;
const LON_MIN = -90, LON_MAX = 90, LAT_MIN = -10, LAT_MAX = 30;
const columnLeft = [101.7,844.2];
const rowTop = [45,278,511,744];
const lonToX = (lon,col) => columnLeft[col] + (lon-LON_MIN)*PX_PER_DEG;
const latToY = (lat,row) => rowTop[row] + (LAT_MAX-lat)*PX_PER_DEG;
const shadeColor = level => colorbarColors[shadeLevels.indexOf(level)];
const labelWidth = label => label === '0' ? 18 : (label[2] === 'W' ? 71 : (label[2] === 'E' ? 61 : 62));

function make(tag, attrs){
  const el = document.createElementNS(SVGNS, tag);
  for (const k in attrs) el.setAttribute(k, attrs[k]);
  return el;
}
function toPoints(flat, col, row){
  const pts = [];
  for (let i=0;i<flat.length;i+=2) pts.push([lonToX(flat[i],col), latToY(flat[i+1],row)]);
  return pts;
}
function smoothPath(pts, closed){
  const n = pts.length;
  const at = i => closed ? pts[(i+n)%n] : pts[Math.max(0,Math.min(n-1,i))];
  let d = 'M'+pts[0][0].toFixed(1)+' '+pts[0][1].toFixed(1);
  const last = closed ? n : n-1;
  for (let i=0;i<last;i++){
    const p0=at(i-1),p1=at(i),p2=at(i+1),p3=at(i+2);
    const c1x=p1[0]+(p2[0]-p0[0])/6, c1y=p1[1]+(p2[1]-p0[1])/6;
    const c2x=p2[0]-(p3[0]-p1[0])/6, c2y=p2[1]-(p3[1]-p1[1])/6;
    d+='C'+c1x.toFixed(1)+' '+c1y.toFixed(1)+' '+c2x.toFixed(1)+' '+c2y.toFixed(1)+' '+p2[0].toFixed(1)+' '+p2[1].toFixed(1);
  }
  return d+(closed?'Z':'');
}
function straightPath(pts){
  return pts.map((p,i)=>(i?'L':'M')+p[0].toFixed(1)+' '+p[1].toFixed(1)).join('');
}

// ---------- Panels ----------
const panelsRoot = document.getElementById('panels');
panelNames.forEach((name, idx) => {
  const col = idx < 4 ? 0 : 1;
  const row = idx % 4;
  const x0 = lonToX(LON_MIN,col), x1 = lonToX(LON_MAX,col);
  const y0 = latToY(LAT_MAX,row), y1 = latToY(LAT_MIN,row);

  const panel = make('g', {});
  
  

  const clip = make('clipPath', {id:'clip-'+name});
  clip.appendChild(make('rect', {x:x0,y:y0,width:x1-x0,height:y1-y0}));
  panel.appendChild(clip);

  const inner = make('g', {'clip-path':'url(#clip-'+name+')'});
  const base = make('rect', {x:x0,y:y0,width:x1-x0,height:y1-y0,fill:shadeColor(panelBaseLevels[idx])});
  
  
  inner.appendChild(base);

  panelFills[idx].forEach(entry => {
    const path = make('path', {d:smoothPath(toPoints(entry.slice(1),col,row),true),fill:shadeColor(entry[0])});
    
    
    inner.appendChild(path);
  });

  // Dashed reference lines
  for (let i=0;i<zeroLatSegments.length;i+=2){
    const ln = make('line', {x1:lonToX(zeroLatSegments[i],col),x2:lonToX(zeroLatSegments[i+1],col),y1:latToY(0,row),y2:latToY(0,row),stroke:'#555','stroke-width':1.6,'stroke-dasharray':'5 4'});
    
    
    inner.appendChild(ln);
  }
  const prime = make('line', {x1:lonToX(0,col),x2:lonToX(0,col),y1:latToY(zeroLonRange[0],row),y2:latToY(zeroLonRange[1],row),stroke:'#555','stroke-width':1.6,'stroke-dasharray':'5 4'});
  
  
  inner.appendChild(prime);

  // Coastlines and borders
  const mapPath = coastlines.concat(borders).map(line => straightPath(toPoints(line,col,row))).join('');
  const map = make('path', {d:mapPath,fill:'none',stroke:'#666','stroke-width':1.6,'stroke-linejoin':'round'});
  
  
  inner.appendChild(map);

  // Contours
  panelContours[idx].forEach(entry => {
    const color = seriesColors[seriesNames.indexOf(entry[0])];
    const path = make('path', {d:smoothPath(toPoints(entry.slice(2),col,row),entry[1]===1),fill:'none',stroke:color,'stroke-width':2});
    
    
    inner.appendChild(path);
  });
  panel.appendChild(inner);

  // Frame
  const frame = make('rect', {x:x0,y:y0,width:x1-x0,height:y1-y0,fill:'none',stroke:'#000','stroke-width':2.8});
  
  
  panel.appendChild(frame);

  // Ticks
  let tickD = '', majorD = '';
  for (let lon=LON_MIN; lon<=LON_MAX; lon+=10){
    const x = lonToX(lon,col).toFixed(1);
    if (lon%60===0 && Math.abs(lon)<90) majorD += 'M'+x+' '+(y0-5)+'V'+y0+'M'+x+' '+y1+'V'+(y1+6);
    else tickD += 'M'+x+' '+(y0-3)+'V'+y0+'M'+x+' '+y1+'V'+(y1+3);
  }
  for (let lat=LAT_MIN; lat<=LAT_MAX; lat+=2){
    const y = latToY(lat,row).toFixed(1);
    if (lat%10===0) majorD += 'M'+(x0-4)+' '+y+'H'+x0+'M'+x1+' '+y+'H'+(x1+4);
    else tickD += 'M'+(x0-2.5)+' '+y+'H'+x0+'M'+x1+' '+y+'H'+(x1+2.5);
  }
  const minor = make('path', {d:tickD,stroke:'#000','stroke-width':1.3,fill:'none'});
  
  
  panel.appendChild(minor);
  const major = make('path', {d:majorD,stroke:'#000','stroke-width':2.4,fill:'none'});
  
  
  panel.appendChild(major);

  panelsRoot.appendChild(panel);
});

// Storm marker in the first observed panel
const stormLabel = make('text', {x:lonToX(-87.6,0),y:latToY(18.7,0),'font-size':9,'font-weight':'bold','text-anchor':'middle',style:'fill:#fff'});


stormLabel.textContent = 'A';
panelsRoot.appendChild(stormLabel);

// ---------- Axis labels ----------
const axisRoot = document.getElementById('axis-labels');
[0,1,2,3].forEach(row => {
  latTickLabels.forEach((label,i) => {
    const t = make('text', {x:74,y:latToY(latTickValues[i],row)+12.5,'text-anchor':'end',textLength:labelWidth(label),lengthAdjust:'spacingAndGlyphs'});
    
    
    t.textContent = label;
    axisRoot.appendChild(t);
  });
});
[0,1].forEach(col => {
  lonTickLabels.forEach((label,i) => {
    const t = make('text', {x:lonToX(lonTickValues[i],col),y:941,'text-anchor':'middle',textLength:labelWidth(label),lengthAdjust:'spacingAndGlyphs'});
    
    
    t.textContent = label;
    axisRoot.appendChild(t);
  });
});

// ---------- Colorbar ----------
const barRoot = document.getElementById('colorbar');
const BAR_X = 229, BAR_W = 604, BAR_Y = 1003, BAR_H = 23;
const cellW = BAR_W / colorbarColors.length;
colorbarColors.forEach((color,i) => {
  const r = make('rect', {x:BAR_X+i*cellW,y:BAR_Y,width:cellW,height:BAR_H,fill:color,stroke:'#000','stroke-width':1});
  
  
  barRoot.appendChild(r);
});
colorbarLabels.forEach((label,i) => {
  const t = make('text', {x:BAR_X+(i+1)*cellW+1,y:1056,'text-anchor':'middle','font-size':31});
  
  
  t.textContent = label;
  barRoot.appendChild(t);
});
</script>
</body>
</html>
